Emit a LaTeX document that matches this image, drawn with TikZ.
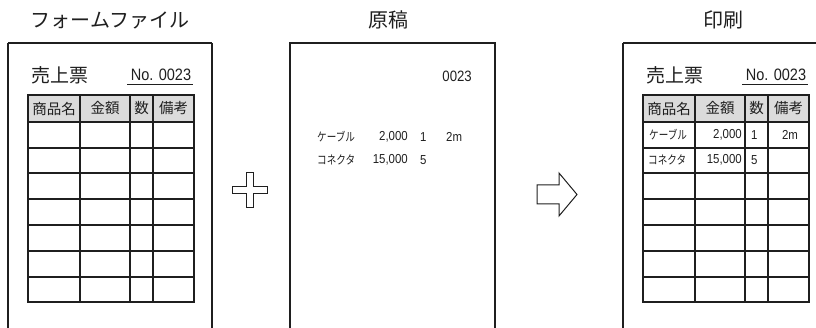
\documentclass[tikz,border=0pt]{standalone}
\usepackage{fontspec}
\setmainfont{Noto Sans CJK JP}
\newfontfamily\jpf{Noto Sans CJK JP}
\newfontfamily\jpn[FakeStretch=0.8]{Noto Sans CJK JP}
\newfontfamily\numf[FakeStretch=0.88]{Liberation Sans}
\definecolor{ink}{gray}{0.12}
\definecolor{hdrfill}{gray}{0.86}
\tikzset{
  sheet/.style={line width=1.8pt, draw=ink},
  gridline/.style={line width=1.1pt, draw=ink},
  ttl/.style={font=\jpf\fontsize{20}{20}\selectfont, text=ink, inner sep=0pt},
  bigjp/.style={font=\jpf\fontsize{19}{19}\selectfont, text=ink, inner sep=0pt},
  bignum/.style={font=\numf\fontsize{16.5}{16.5}\selectfont, text=ink, inner sep=0pt},
  hdrtxt/.style={font=\jpf\fontsize{14.5}{14.5}\selectfont, text=ink, inner sep=0pt},
  smjp/.style={font=\jpn\fontsize{12}{12}\selectfont, text=ink, inner sep=0pt},
  smnum/.style={font=\numf\fontsize{13}{13}\selectfont, text=ink, inner sep=0pt},
  midnum/.style={font=\numf\fontsize{15}{15}\selectfont, text=ink, inner sep=0pt},
  shapeline/.style={line width=1pt, draw=ink, fill=white, line join=miter}
}
\newcommand\salesform[2]{%
  \begin{scope}[xshift=#1pt]
    \draw[sheet] (8,43) -- (8,340) (8,43) -- (#2,43) (#2,43) -- (#2,340);
    \fill[hdrfill] (28,95) rectangle (194,122);
    \draw[gridline] (28,95) rectangle (194,302);
    \foreach \yy in {122,148,173,199,225,251,277} {\draw[gridline] (28,\yy) -- (194,\yy);}
    \foreach \xx in {80,130,153} {\draw[gridline] (\xx,95) -- (\xx,302);}
    \draw[line width=1pt, draw=ink] (127,85) -- (193,85);
  \end{scope}}
\begin{document}
\begin{tikzpicture}[x=1pt,y=-1pt]
\useasboundingbox (0,0) rectangle (816,328);
\clip (0,0) rectangle (816,328);
% titles
\node[ttl] (t1) at (110,20) {フォームファイル};
\node[ttl] (t2) at (388,20) {原稿};
\node[ttl] (t3) at (723,20) {印刷};
% left form
\salesform{0}{212}
\node[bigjp] (lf) at (59.5,75) {売上票};
\node[bignum, anchor=base] (lno) at (161,80.5) {No. 0023};
\node[hdrtxt] (lh1) at (54,108.5) {商品名};
\node[hdrtxt] (lh2) at (105,108.5) {金額};
\node[hdrtxt] (lh3) at (141.5,108.5) {数};
\node[hdrtxt] (lh4) at (173.5,108.5) {備考};
% right form
\salesform{615}{900}
\begin{scope}[xshift=615pt]
\node[bigjp] (rf) at (59.5,75) {売上票};
\node[bignum, anchor=base] (rno) at (161,80.5) {No. 0023};
\node[hdrtxt] (rh1) at (54,108.5) {商品名};
\node[hdrtxt] (rh2) at (105,108.5) {金額};
\node[hdrtxt] (rh3) at (141.5,108.5) {数};
\node[hdrtxt] (rh4) at (173.5,108.5) {備考};
\node[smjp, anchor=west] (ra1) at (34,135) {ケーブル};
\node[smnum, anchor=east] (ra2) at (127,135) {2,000};
\node[smnum, anchor=west] (ra3) at (136,135) {1};
\node[smnum] (ra4) at (175,135) {2m};
\node[smjp, anchor=west] (rb1) at (33,160) {コネクタ};
\node[smnum, anchor=east] (rb2) at (127,160) {15,000};
\node[smnum, anchor=west] (rb3) at (136,160) {5};
\end{scope}
% middle sheet
\draw[sheet] (290,340) -- (290,43) -- (495,43) -- (495,340);
\node[midnum, anchor=east] (m0) at (472,76) {0023};
\node[smjp, anchor=west] (ma1) at (317,137) {ケーブル};
\node[smnum, anchor=east] (ma2) at (408,137) {2,000};
\node[smnum, anchor=west] (ma3) at (420,137) {1};
\node[smnum, anchor=west] (ma4) at (446,137) {2m};
\node[smjp, anchor=west] (mb1) at (317,160) {コネクタ};
\node[smnum, anchor=east] (mb2) at (408,160) {15,000};
\node[smnum, anchor=west] (mb3) at (420,160) {5};
% plus
\draw[shapeline] (246.5,173) -- (253.5,173) -- (253.5,186.5) -- (267.5,186.5) -- (267.5,193.5)
  -- (253.5,193.5) -- (253.5,208) -- (246.5,208) -- (246.5,193.5) -- (232.5,193.5)
  -- (232.5,186.5) -- (246.5,186.5) -- cycle;
% arrow
\draw[shapeline] (537,185) -- (559,185) -- (559,173) -- (577,194.5) -- (559,216) -- (559,204) -- (537,204) -- cycle;
\end{tikzpicture}
\end{document}
